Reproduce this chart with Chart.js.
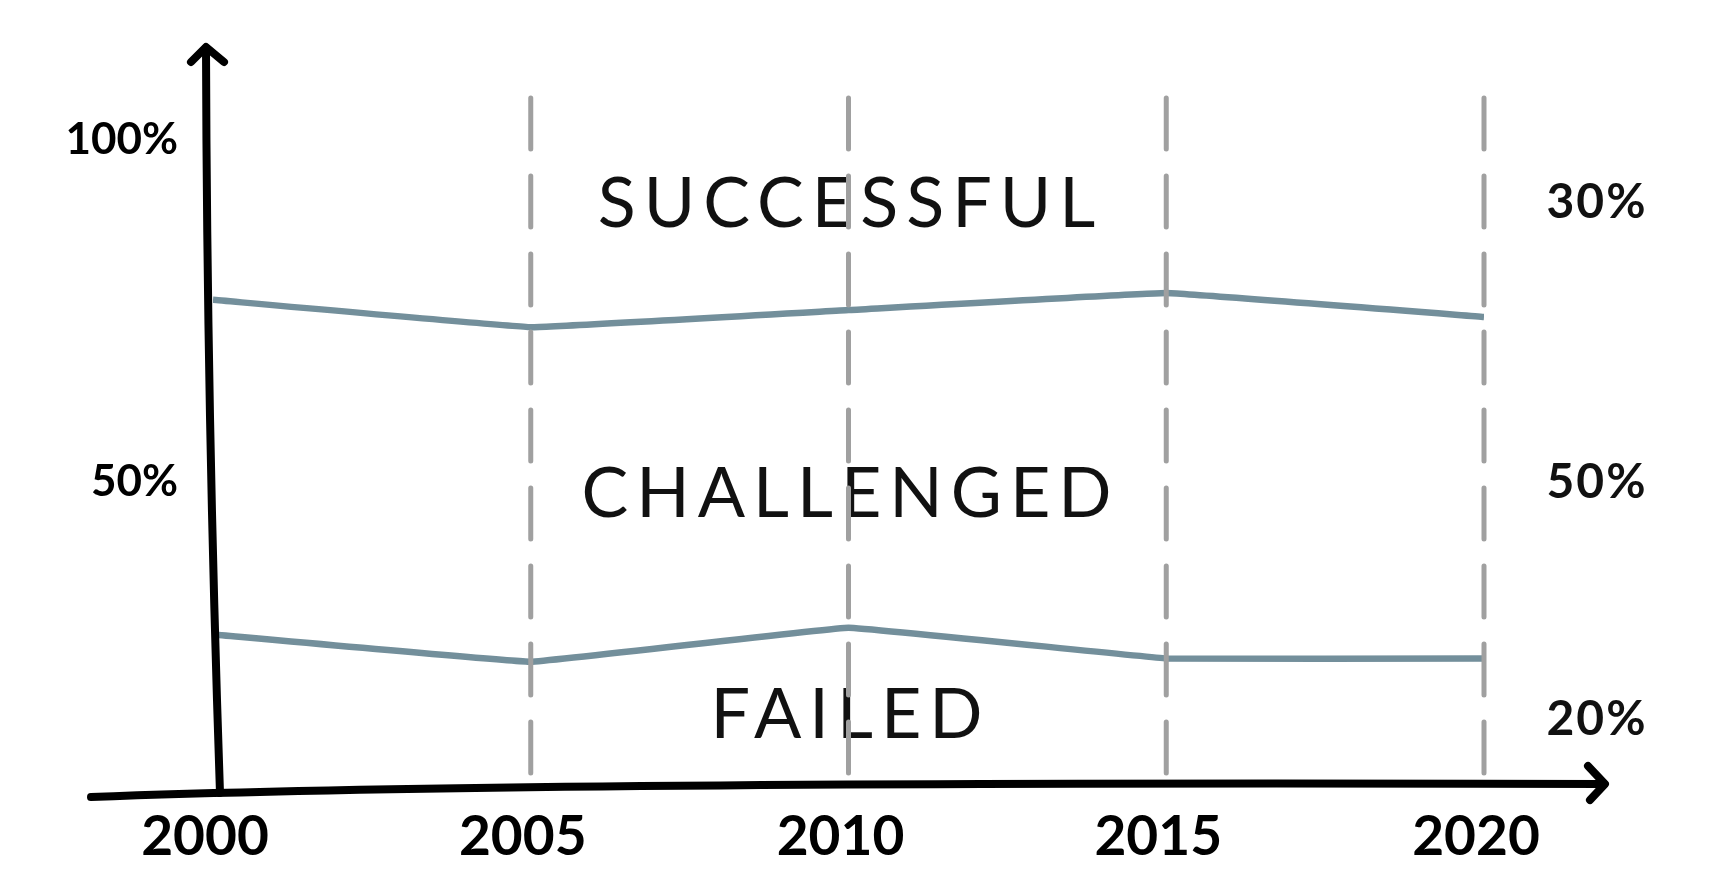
<!DOCTYPE html>
<html><head><meta charset="utf-8">
<script src="https://cdn.jsdelivr.net/npm/chart.js@4.4.1/dist/chart.umd.min.js"></script>
<style>html,body{margin:0;padding:0;background:#fff;overflow:hidden}#wrap{width:1711px;height:896px}</style>
</head><body><div id="wrap"><canvas id="c" width="1711" height="896"></canvas></div>
<script>
const years = [2000, 2005, 2010, 2015, 2020];
const failed = [23.5, 19.5, 24.5, 20, 20];
const challenged = [49, 49, 46.5, 53.5, 50];
const successful = [27.5, 31.5, 29, 26.5, 30];
const yTickValues = [50, 100];
const bandNames = ['SUCCESSFUL', 'CHALLENGED', 'FAILED'];

const LINE = '#738f9b';
const sketch = {
  id: 'sketch',
  afterDraw(chart) {
    const ctx = chart.ctx, a = chart.chartArea;
    const xs = chart.scales.x, ys = chart.scales.y;
    ctx.save();
    // band names in the middle
    ctx.fillStyle = '#111';
    ctx.textAlign = 'center';
    ctx.textBaseline = 'middle';
    ctx.font = '400 70px Lato';
    ctx.letterSpacing = '8px';
    const cx = xs.getPixelForValue(2010) + 2;
    const midY = [86.4, 44, 11.6];
    bandNames.forEach((n, i) => ctx.fillText(n, cx, ys.getPixelForValue(midY[i])));
    // final-year values on the right
    ctx.letterSpacing = '2px';
    ctx.font = '700 48px Lato';
    const last = years.length - 1;
    const rightVals = [successful[last], challenged[last], failed[last]];
    const rightY = [86.8, 45.7, 11.0];
    rightVals.forEach((v, i) => ctx.fillText(v + '%', a.right + 113, ys.getPixelForValue(rightY[i])));
    ctx.letterSpacing = '0px';
    // dashed vertical grid
    ctx.strokeStyle = '#a0a0a0';
    ctx.lineWidth = 5;
    ctx.lineCap = 'round';
    ctx.setLineDash([51, 27]);
    years.slice(1).forEach(yr => {
      const x = xs.getPixelForValue(yr);
      ctx.beginPath();
      ctx.moveTo(x, a.top - 14);
      ctx.lineTo(x, a.bottom - 20);
      ctx.stroke();
    });
    ctx.setLineDash([]);
    // axes
    ctx.strokeStyle = '#000';
    ctx.lineWidth = 8;
    ctx.lineJoin = 'round';
    const x0 = a.left;
    ctx.beginPath();
    ctx.moveTo(x0 - 7, a.top - 64);
    ctx.quadraticCurveTo(x0 - 6, a.top + 300, x0 + 7, a.bottom - 2);
    ctx.stroke();
    ctx.beginPath();
    ctx.moveTo(x0 - 22, a.top - 50);
    ctx.lineTo(x0 - 7, a.top - 65);
    ctx.lineTo(x0 + 11, a.top - 50);
    ctx.stroke();
    const yb = a.bottom;
    ctx.beginPath();
    ctx.moveTo(a.left - 122, yb + 2);
    ctx.quadraticCurveTo(a.left + 300, yb - 14, a.right + 120, yb - 11);
    ctx.stroke();
    ctx.beginPath();
    ctx.moveTo(a.right + 104, yb - 29);
    ctx.lineTo(a.right + 121, yb - 11);
    ctx.lineTo(a.right + 106, yb + 5);
    ctx.stroke();
    ctx.restore();
  }
};

new Chart(document.getElementById('c'), {
  type: 'line',
  data: {
    labels: years,
    datasets: [
      { label: 'Failed', data: failed, borderColor: LINE, borderWidth: 6.5, pointRadius: 0, fill: false, tension: 0.05 },
      { label: 'Challenged', data: challenged, borderColor: LINE, borderWidth: 6.5, pointRadius: 0, fill: false, tension: 0.05 },
      { label: 'Successful', data: successful, borderColor: 'rgba(0,0,0,0)', borderWidth: 0, pointRadius: 0, fill: false, showLine: false }
    ]
  },
  options: {
    responsive: false,
    animation: false,
    devicePixelRatio: 1,
    layout: { padding: { left: 0, right: 227, top: 112, bottom: 0 } },
    plugins: { legend: { display: false }, tooltip: { enabled: false } },
    scales: {
      x: {
        type: 'linear', min: 2000, max: 2020,
        grid: { display: false }, border: { display: false },
        afterFit: s => { s.height = 101; },
        ticks: { stepSize: 5, padding: 1, labelOffset: -8, color: '#000',
          font: { family: 'Lato', size: 55, weight: '700' },
          callback: v => String(v) }
      },
      y: {
        stacked: true, min: 0, max: 100,
        grid: { display: false }, border: { display: false },
        afterFit: s => { s.width = 213; },
        afterBuildTicks: s => { s.ticks = yTickValues.map(v => ({ value: v })); },
        ticks: { padding: 27, labelOffset: 28, color: '#000',
          font: { family: 'Lato', size: 44, weight: '700' },
          callback: v => v + '%' }
      }
    }
  },
  plugins: [sketch]
});
</script></body></html>
